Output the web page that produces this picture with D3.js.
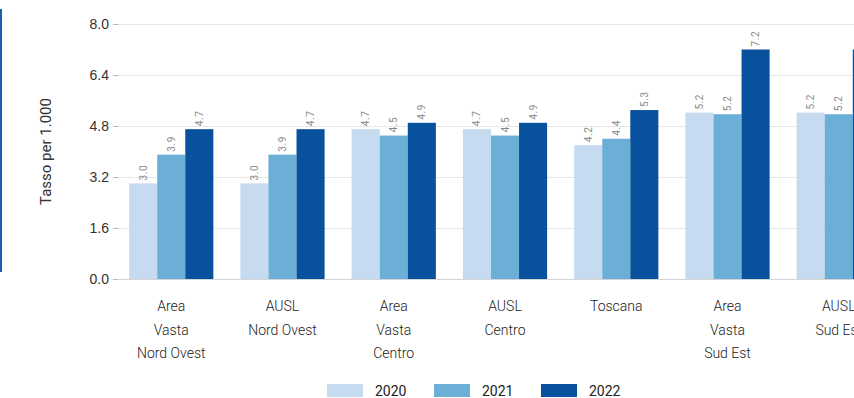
<!DOCTYPE html>
<html lang="it">
<head>
  <meta charset="utf-8" />
  <script src="https://d3js.org/d3.v7.min.js"></script>
  <style>
    body { margin: 0; background: #fff; }
    svg { display: block; font-family: Roboto, "Noto Sans", sans-serif; }
    .tick text { font-size: 14px; fill: #333; }
    .gridLine { stroke: #e6e6e6; stroke-width: 1px; }
    .valueLabel { font-size: 10px; fill: #8a8a8a; letter-spacing: 0.6px; }
    .catLabel { font-size: 14px; fill: #222; font-weight: 300; }
    .legend { font-size: 14px; fill: #222; }
  </style>
</head>
<body>
  <div id="visu"></div>
  <script>
    const width = 854, height = 398;
    const margin = { top: 24, bottom: 119, left: 118 };

    // dati
    const categorie = [
      ["Area", "Vasta", "Nord Ovest"],
      ["AUSL", "Nord Ovest"],
      ["Area", "Vasta", "Centro"],
      ["AUSL", "Centro"],
      ["Toscana"],
      ["Area", "Vasta", "Sud Est"],
      ["AUSL", "Sud Est"]
    ];
    const anni = ["2020", "2021", "2022"];
    const valori2020 = [3.0, 3.0, 4.7, 4.7, 4.2, 5.22, 5.22];
    const valori2021 = [3.9, 3.9, 4.5, 4.5, 4.4, 5.17, 5.17];
    const valori2022 = [4.7, 4.7, 4.9, 4.9, 5.3, 7.2, 7.2];
    const yTicks = [0, 1.6, 3.2, 4.8, 6.4, 8.0];
    const couleurs = ["#c6dbef", "#6baed6", "#08519c"];

    const serie = [valori2020, valori2021, valori2022];
    const data = categorie.map((c, i) => ({
      nome: c.join(" "),
      righe: c,
      valori: serie.map((s, j) => ({ anno: anni[j], value: s[i] }))
    }));

    const svg = d3.select("#visu").append("svg")
      .attr("width", width)
      .attr("height", height);

    const plotBottom = height - margin.bottom;

    // la scala continua oltre il bordo destro, come nell'originale
    const x0 = d3.scaleBand()
      .domain(data.map(d => d.nome))
      .range([margin.left, margin.left + 774])
      .paddingInner(0.243)
      .paddingOuter(0.1);

    const x1 = d3.scaleBand()
      .domain(anni)
      .range([0, x0.bandwidth()]);

    const y = d3.scaleLinear()
      .domain([0, 8])
      .range([plotBottom, margin.top]);

    // barra blu a sinistra
    svg.append("rect")
      .attr("x", 0).attr("y", 9)
      .attr("width", 2).attr("height", 263)
      .attr("fill", "#1c5fae");

    // griglia
    svg.append("g")
      .selectAll("line")
      .data(yTicks.filter(d => d > 0))
      .enter().append("line")
      .attr("class", "gridLine")
      .attr("x1", margin.left).attr("x2", width)
      .attr("y1", d => y(d) + 0.5).attr("y2", d => y(d) + 0.5);

    svg.append("line")
      .attr("x1", margin.left).attr("x2", width)
      .attr("y1", plotBottom + 0.5).attr("y2", plotBottom + 0.5)
      .attr("stroke", "#d4d4d4");

    const yAxis = svg.append("g")
      .attr("transform", `translate(${margin.left},0)`)
      .call(d3.axisLeft(y).tickValues(yTicks).tickFormat(d3.format(".1f")).tickSize(5).tickPadding(4));
    yAxis.select(".domain").remove();
    yAxis.selectAll(".tick line").attr("stroke", "#bbb");

    svg.append("text")
      .attr("transform", `translate(51,${(margin.top + plotBottom) / 2}) rotate(-90)`)
      .attr("text-anchor", "middle")
      .style("font-size", "15px")
      .style("fill", "#333")
      .text("Tasso per 1.000");

    // barre
    const gruppi = svg.selectAll(".gruppo")
      .data(data)
      .enter().append("g")
      .attr("class", "gruppo")
      .attr("transform", d => `translate(${x0(d.nome)},0)`);

    gruppi.selectAll("rect")
      .data(d => d.valori)
      .enter().append("rect")
      .attr("x", d => x1(d.anno))
      .attr("y", d => y(d.value))
      .attr("width", x1.bandwidth())
      .attr("height", d => plotBottom - y(d.value))
      .attr("fill", (d, i) => couleurs[i]);

    gruppi.selectAll(".valueLabel")
      .data(d => d.valori)
      .enter().append("text")
      .attr("class", "valueLabel")
      .attr("transform", d => `translate(${x1(d.anno) + x1.bandwidth() / 2},${y(d.value) - 3}) rotate(-90)`)
      .attr("dy", "0.35em")
      .text(d => d.value.toFixed(1));

    // etichette categorie
    const etichette = svg.selectAll(".catLabel")
      .data(data)
      .enter().append("text")
      .attr("class", "catLabel")
      .attr("text-anchor", "middle")
      .attr("x", d => x0(d.nome) + x0.bandwidth() / 2)
      .attr("y", plotBottom + 32);

    etichette.selectAll("tspan")
      .data(d => d.righe)
      .enter().append("tspan")
      .attr("x", function () { return d3.select(this.parentNode).attr("x"); })
      .attr("dy", (d, i) => i === 0 ? 0 : 23.5)
      .text(d => d);

    // legenda
    const legendaX = [327, 434, 541];
    const legenda = svg.selectAll(".legendItem")
      .data(anni)
      .enter().append("g")
      .attr("class", "legendItem")
      .attr("transform", (d, i) => `translate(${legendaX[i]},384)`);

    legenda.append("rect")
      .attr("width", 36).attr("height", 13)
      .attr("fill", (d, i) => couleurs[i]);

    legenda.append("text")
      .attr("class", "legend")
      .attr("x", 48).attr("y", 12)
      .text(d => d);
  </script>
</body>
</html>
